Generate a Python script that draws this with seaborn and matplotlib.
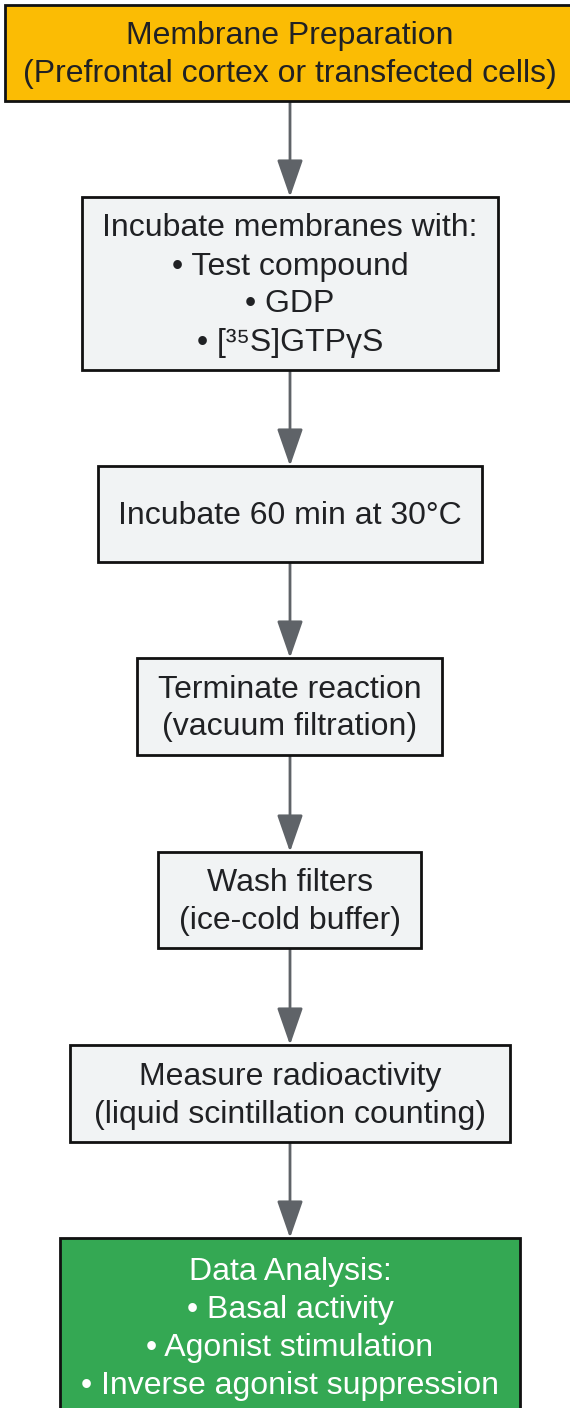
"""Flowchart of the [35S]GTPgammaS binding assay."""

import matplotlib.pyplot as plt
import seaborn as sns
from matplotlib.patches import Rectangle

# Step texts, one list of lines per box.
step_lines = [
    ["Membrane Preparation", "(Prefrontal cortex or transfected cells)"],
    ["Incubate membranes with:", "• Test compound", "• GDP", "• [³⁵S]GTPγS"],
    ["Incubate 60 min at 30°C"],
    ["Terminate reaction", "(vacuum filtration)"],
    ["Wash filters", "(ice-cold buffer)"],
    ["Measure radioactivity", "(liquid scintillation counting)"],
    ["Data Analysis:", "• Basal activity", "• Agonist stimulation",
     "• Inverse agonist suppression"],
]
fill_colors = ["#FBBC04", "#F1F3F4", "#F1F3F4", "#F1F3F4", "#F1F3F4",
               "#F1F3F4", "#34A853"]
text_colors = ["#202124", "#202124", "#202124", "#202124", "#202124",
               "#202124", "#FFFFFF"]

# Layout in pixels (left, top, right, bottom).
box_extent = [
    (5, 5, 572, 101),
    (82, 197, 498, 370),
    (98, 466, 482, 562),
    (137, 658, 442, 755),
    (158, 852, 421, 948),
    (70, 1045, 510, 1142),
    (60, 1238, 520, 1416),
]
LINE_STEP = 38
CENTER_X = 290


def main() -> None:
    sns.set_style("white")
    plt.rcParams["font.family"] = ["Liberation Sans", "DejaVu Sans"]

    fig = plt.figure(figsize=(5.7, 14.08), dpi=100)
    ax = fig.add_axes([0, 0, 1, 1])
    ax.set_xlim(0, 570)
    ax.set_ylim(1408, 0)
    ax.axis("off")

    for lines, fc, tc, (x0, y0, x1, y1) in zip(step_lines, fill_colors,
                                               text_colors, box_extent):
        ax.add_patch(Rectangle((x0, y0), x1 - x0, y1 - y0, facecolor=fc,
                               edgecolor="#111111", linewidth=2, zorder=2))
        n = len(lines)
        first = (y0 + y1) / 2 - 1.5 - (n - 1) * LINE_STEP / 2
        for i, line in enumerate(lines):
            ax.text(CENTER_X, first + i * LINE_STEP, line, ha="center",
                    va="center_baseline", fontsize=23, color=tc, zorder=3)

    # Arrows between consecutive boxes.
    for (_, _, _, b), (_, t, _, _) in zip(box_extent[:-1], box_extent[1:]):
        ax.annotate("", xy=(CENTER_X, t), xytext=(CENTER_X, b + 1),
                    arrowprops=dict(arrowstyle="-|>,head_length=1.15,head_width=0.4",
                                    mutation_scale=20,
                                    color="#5F6368", lw=2,
                                    shrinkA=0, shrinkB=0),
                    zorder=1)

    fig.savefig("out.png", dpi=100)
    plt.close(fig)


if __name__ == "__main__":
    main()
